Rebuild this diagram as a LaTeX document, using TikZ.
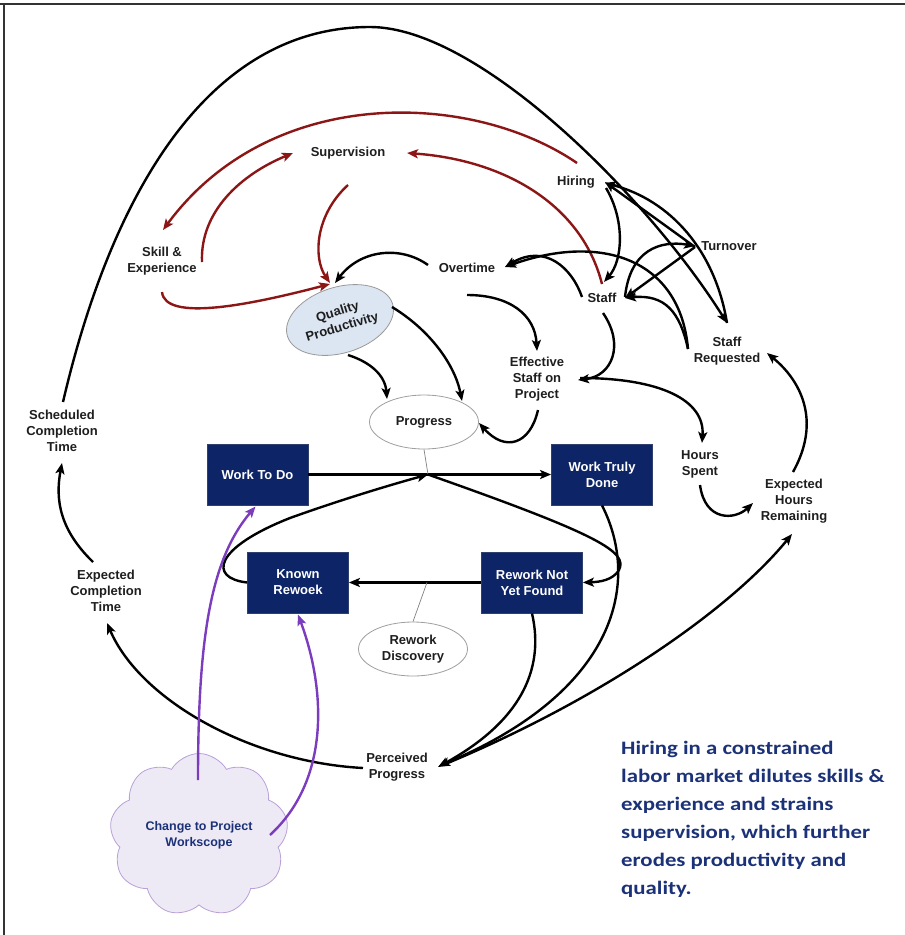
\documentclass[tikz,border=0pt]{standalone}
\usepackage{fontspec}
\setmainfont{Liberation Sans}
\newfontfamily\blurbfont[FakeStretch=1.2]{Carlito}
\usetikzlibrary{arrows.meta,shapes.geometric,shapes.symbols,calc}
\definecolor{navy}{RGB}{13,36,102}
\definecolor{darkred}{RGB}{140,22,22}
\definecolor{violet2}{RGB}{124,60,190}
\definecolor{cloudfill}{RGB}{238,234,245}
\definecolor{cloudline}{RGB}{185,160,215}
\definecolor{qpfill}{RGB}{220,230,242}
\definecolor{blurb}{RGB}{28,50,120}
\definecolor{txt}{RGB}{30,30,30}
\begin{document}
\begin{tikzpicture}[x=1pt,y=-1pt,
  lbl/.style={font=\fontsize{13}{16}\selectfont\bfseries, text=txt, align=center, inner sep=1pt},
  stock/.style={fill=navy, draw=navy!70!gray, line width=0.8pt, minimum width=101pt, minimum height=61pt,
    text=white, font=\fontsize{13}{16}\selectfont\bfseries, align=center, inner sep=0pt},
  aux/.style={ellipse, draw=gray!75, fill=white, line width=0.8pt, minimum width=109pt, minimum height=54pt,
    font=\fontsize{13}{16}\selectfont\bfseries, text=txt, align=center, inner sep=0pt},
  link/.style={line width=2.4pt, -{Stealth[length=11pt,width=9pt,inset=2.5pt]}},
  redlink/.style={link, draw=darkred},
  purplink/.style={link, draw=violet2},
  flow/.style={line width=2.4pt, -{Stealth[length=11pt,width=9pt,inset=2.5pt]}},
  thinline/.style={draw=gray, line width=0.7pt}
]
\useasboundingbox (0,0) rectangle (905,935);
% frame
\draw[line width=1.5pt, draw=black!80] (0,4) -- (905,4);
\draw[line width=1.5pt, draw=black!80] (4,4) -- (4,935);

% ---------- nodes ----------
\node[lbl] (sup)   at (348,153) {Supervision};
\node[lbl] (hir)   at (576,182) {Hiring};
\node[lbl] (skill) at (162,261) {Skill \&\\Experience};
\node[lbl] (over)  at (467,268) {Overtime};
\node[lbl] (turn)  at (729,246) {Turnover};
\node[lbl] (staff) at (602,298) {Staff};
\node[lbl] (eff)   at (537,379) {Effective\\Staff on\\Project};
\node[lbl] (sreq)  at (727,351) {Staff\\Requested};
\node[lbl] (hours) at (700,464) {Hours\\Spent};
\node[lbl] (ehr)   at (794,501) {Expected\\Hours\\Remaining};
\node[lbl] (sct)   at (62,431)  {Scheduled\\Completion\\Time};
\node[lbl] (ect)   at (106,591) {Expected\\Completion\\Time};
\node[lbl] (pp)    at (397,767) {Perceived\\Progress};

\node[ellipse, draw=gray!80, fill=qpfill, line width=0.8pt, minimum width=110pt, minimum height=66pt,
      rotate=17, inner sep=0pt, font=\fontsize{13}{16}\selectfont\bfseries, text=txt, align=center]
      (qp) at (340,320) {Quality\\Productivity};

\node[aux] (prog)  at (424,422) {Progress};
\node[aux] (rdisc) at (413,649) {Rework\\Discovery};

\node[stock] (wtd)    at (257.5,474.5) {Work To Do};
\node[stock] (wtdone) at (602,474.5)   {Work Truly\\Done};
\node[stock] (kr)     at (298,582.5)   {Known\\Rewoek};
\node[stock] (rnyf)   at (532,582.5)   {Rework Not\\Yet Found};

\node[cloud, cloud puffs=9, cloud puff arc=120, aspect=1.15, draw=cloudline, fill=cloudfill,
      line width=0.8pt, minimum width=172pt, minimum height=146pt,
      font=\fontsize{12.5}{16}\selectfont\bfseries, text=blurb, align=center] (cloud) at (199,835)
      {Change to Project\\Workscope};

\node[anchor=north west, inner sep=0pt, align=left, text=blurb,
      font=\blurbfont\fontsize{19}{28}\selectfont\bfseries] (blurb) at (621,741)
  {Hiring in a constrained\\labor market dilutes skills \&\\experience and strains\\supervision, which further\\erodes productivity and\\quality.};

% ---------- flows ----------
\coordinate (valve) at (428,474.5);
\coordinate (rvalve) at (427,582.5);
\draw[flow] (wtd.east) -- (wtdone.west);
\draw[flow] (rnyf.west) -- (kr.east);
\draw[thinline] (prog.south) -- (valve);
\draw[thinline] (rvalve) -- (rdisc.north);
\draw[link] (kr.west) .. controls (208,578) and (214,548) .. (290,518)
            .. controls (340,500) and (390,485) .. (valve);
\draw[link] (valve) .. controls (600,535) and (628,552) .. (619,570)
            .. controls (613,580) and (600,582) .. (rnyf.east);

% ---------- red links ----------
\draw[redlink] ($(hir)+(1,-19)$) .. controls (470,90) and (270,85) .. ($(skill)+(1,-31)$);
\draw[redlink] ($(staff)+(0,-14)$) .. controls (582,205) and (505,160) .. ($(sup)+(59,0)$);
\draw[redlink] ($(skill)+(40,1)$) .. controls (200,212) and (240,175) .. ($(sup)+(-55,0)$);
\draw[redlink] ($(sup)+(0,32)$) .. controls (315,215) and (313,258) .. ($(qp)+(-10,-37)$);
\draw[redlink] ($(skill)+(0,31)$) .. controls (165,322) and (250,305) .. ($(qp)+(-10,-36)$);

% ---------- black links ----------
\draw[link] ($(sct)+(1,-29)$) .. controls (110,200) and (205,27) .. (370,27)
            .. controls (480,27) and (650,200) .. ($(sreq)+(0,-28)$);
\draw[link] ($(over)+(-39,-3)$) .. controls (400,245) and (360,250) .. ($(qp)+(-5,-37)$);
\draw[link] ($(over)+(0,27)$) .. controls (510,295) and (535,315) .. ($(eff)+(0,-28)$);
\draw[link] ($(qp)+(8,35)$) .. controls (370,362) and (385,375) .. ($(prog)+(-37,-23)$);
\draw[link] ($(qp)+(52,-13)$) .. controls (430,330) and (455,365) .. ($(prog)+(38,-21)$);
\draw[link] ($(eff)+(1,31)$) .. controls (530,445) and (505,452) .. ($(prog)+(55,1)$);
\draw[link] ($(staff)+(-20,-1)$) .. controls (572,268) and (545,243) .. ($(over)+(38,-1)$);
\draw[link] ($(sreq)+(-39,-2)$) .. controls (680,258) and (600,233) .. ($(over)+(38,-1)$);
\draw[link] ($(sreq)+(-39,-2)$) .. controls (680,312) and (665,294) .. ($(staff)+(23,0)$);
\draw[link] ($(staff)+(23,-1)$) .. controls (630,250) and (660,240) .. ($(turn)+(-34,0)$);
\draw[link] ($(turn)+(-34,1)$) -- ($(staff)+(23,0)$);
\draw[link] ($(turn)+(-34,1)$) -- ($(hir)+(29,0)$);
\draw[link] ($(sreq)+(0,-28)$) .. controls (715,250) and (670,200) .. ($(hir)+(29,1)$);
\draw[link] ($(hir)+(30,6)$) .. controls (625,220) and (623,260) .. ($(staff)+(2,-16)$);
\draw[link] ($(staff)+(1,15)$) .. controls (625,345) and (612,376) .. ($(eff)+(41,1)$);
\draw[link] ($(eff)+(43,-1)$) .. controls (660,378) and (705,400) .. ($(hours)+(2,-21)$);
\draw[link] ($(hours)+(0,21)$) .. controls (705,522) and (735,520) .. ($(ehr)+(-41,2)$);
\draw[link] ($(ehr)+(-1,-29)$) .. controls (822,420) and (800,380) .. ($(sreq)+(40,2)$);
\draw[link] ($(pp)+(46,-2)$) .. controls (600,700) and (730,610) .. ($(ehr)+(-2,33)$);
\draw[link] (wtdone.south) .. controls (640,580) and (620,690) .. ($(pp)+(42,-1)$);
\draw[link] (rnyf.south) .. controls (545,670) and (520,722) .. ($(pp)+(41,0)$);
\draw[link] ($(pp)+(-34,1)$) .. controls (250,762) and (140,700) .. ($(ect)+(1,32)$);
\draw[link] ($(ect)+(-13,-29)$) .. controls (60,530) and (55,500) .. ($(sct)+(0,32)$);

% ---------- purple links ----------
\draw[purplink] ($(cloud)+(-1,-55)$) .. controls (198,640) and (210,560) .. ($(wtd)+(-2,32)$);
\draw[purplink] ($(cloud)+(71,0)$) .. controls (330,780) and (326,690) .. ($(kr)+(0,32)$);
\end{tikzpicture}
\end{document}
